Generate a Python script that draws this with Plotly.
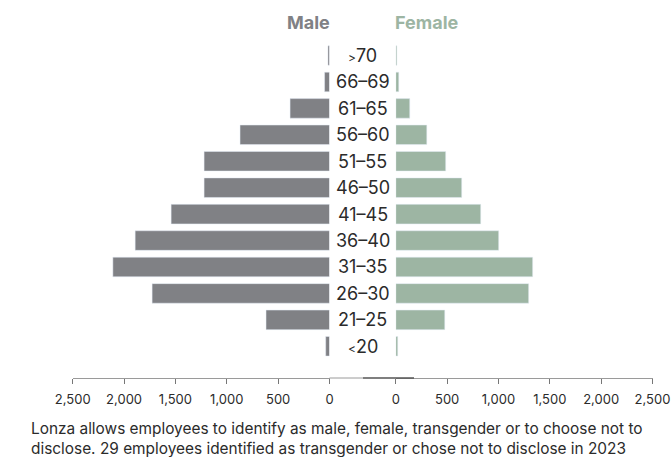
import plotly.graph_objects as go

age_groups = ["<20", "21–25", "26–30", "31–35", "36–40", "41–45",
              "46–50", "51–55", "56–60", "61–65", "66–69", ">70"]
male = [37, 618, 1727, 2109, 1892, 1542, 1221, 1221, 871, 384, 48, 15]
female = [19, 477, 1294, 1333, 1002, 827, 642, 486, 302, 136, 29, 10]
tick_vals = [0, 500, 1000, 1500, 2000, 2500]

W, H = 671, 457
MALE_C = "#808185"
FEMALE_C = "#9db5a3"
TXT = "#2b2b2b"
FONT = "Inter"

left_dom = [72.7 / W, 329.5 / W]
right_dom = [395.8 / W, 652.5 / W]
ydom = [1 - 378 / H, 1 - 42.3 / H]
ypos = list(range(len(age_groups)))

fig = go.Figure()
fig.add_trace(go.Bar(x=male, y=ypos, orientation="h", marker_color=MALE_C,
                     xaxis="x", yaxis="y", showlegend=False, hoverinfo="x"))
fig.add_trace(go.Bar(x=female, y=ypos, orientation="h", marker_color=FEMALE_C,
                     xaxis="x2", yaxis="y2", showlegend=False, hoverinfo="x"))

axis_common = dict(tickvals=tick_vals, tickformat=",", ticks="outside",
                   ticklen=5, tickcolor="#777", showline=True, linecolor="#9a9a9a",
                   linewidth=1, showgrid=False, zeroline=False, automargin=False,
                   ticklabelstandoff=4,
                   tickfont=dict(family=FONT, size=13, color=TXT), fixedrange=True)

fig.update_layout(
    width=W, height=H, margin=dict(l=0, r=0, t=0, b=0, autoexpand=False),
    paper_bgcolor="white", plot_bgcolor="white", bargap=0.26,
    xaxis=dict(axis_common, domain=left_dom, range=[2500, 0], anchor="y"),
    xaxis2=dict(axis_common, domain=right_dom, range=[0, 2500], anchor="y2"),
    yaxis=dict(domain=ydom, range=[-1.2, 11.5], visible=False, anchor="x", automargin=False),
    yaxis2=dict(domain=ydom, range=[-1.2, 11.5], visible=False, anchor="x2", automargin=False),
)

# age labels between the two halves
for i, lab in enumerate(age_groups):
    txt = lab
    if lab.startswith("<") or lab.startswith(">"):
        sym = "&lt;" if lab[0] == "<" else "&gt;"
        txt = f"<span style='font-size:12px'>{sym}</span>{lab[1:]}"
    fig.add_annotation(x=362.5 / W, xref="paper", y=i, yref="y", text=txt,
                       showarrow=False, xanchor="center", yanchor="middle",
                       font=dict(family=FONT, size=18, color=TXT))

# headers
fig.add_annotation(x=308.5 / W, y=1 - 22 / H, xref="paper", yref="paper", text="<b>Male</b>",
                   showarrow=False, xanchor="center", yanchor="middle",
                   font=dict(family=FONT, size=18, color=MALE_C))
fig.add_annotation(x=427 / W, y=1 - 22 / H, xref="paper", yref="paper", text="<b>Female</b>",
                   showarrow=False, xanchor="center", yanchor="middle",
                   font=dict(family=FONT, size=18, color=FEMALE_C))

# connecting axis line segments
ly = 1 - 378 / H
fig.add_shape(type="line", xref="paper", yref="paper", x0=329.5 / W, x1=363 / W, y0=ly, y1=ly,
              line=dict(color="#9a9a9a", width=1))
fig.add_shape(type="line", xref="paper", yref="paper", x0=363 / W, x1=414 / W, y0=ly, y1=ly,
              line=dict(color="#555", width=1.5))

# footnote
fig.add_annotation(x=29 / W, y=1 - 417 / H, xref="paper", yref="paper", xanchor="left", yanchor="top",
                   align="left", showarrow=False,
                   text="Lonza allows employees to identify as male, female, transgender or to choose not to<br>"
                        "disclose. 29 employees identified as transgender or chose not to disclose in 2023",
                   font=dict(family=FONT, size=15.4, color=TXT))

fig.write_html("out.html")
